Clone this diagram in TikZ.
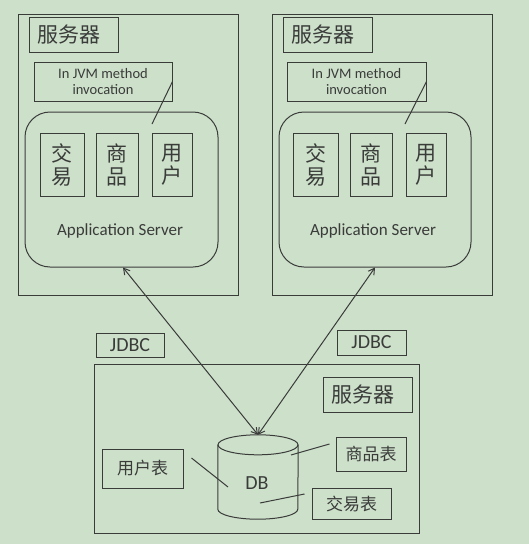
\documentclass[tikz,border=0pt]{standalone}
\usepackage{fontspec}
\setmainfont{Carlito}
\newfontfamily\cjk{Noto Sans CJK SC}
\usepackage{xcolor}
\usetikzlibrary{arrows.meta}
\definecolor{bggreen}{RGB}{205,224,202}
\definecolor{ink}{RGB}{58,60,58}
\tikzset{
  frame/.style={draw=ink, line width=1pt, inner sep=0pt, text=ink},
  srvbox/.style={frame, minimum width=220pt, minimum height=281pt},
  titbox/.style={frame, minimum width=89pt, minimum height=35pt,
                 font=\cjk\fontsize{21}{24}\selectfont},
  jvmbox/.style={frame, minimum height=39pt, align=center,
                 font=\fontsize{14.5}{16}\selectfont},
  appbox/.style={frame, rounded corners=25pt, minimum height=155pt},
  modbox/.style={frame, minimum height=63pt, align=center,
                 font=\cjk\fontsize{21}{23}\selectfont},
  tblbox/.style={frame, font=\cjk\fontsize{17}{20}\selectfont},
  jdbcbox/.style={frame, font=\fontsize{20}{22}\selectfont},
  applab/.style={text=ink, font=\fontsize{17}{20}\selectfont},
  dblab/.style={text=ink, font=\fontsize{20}{22}\selectfont},
  wire/.style={draw=ink, line width=1pt},
  link/.style={wire, {Straight Barb[length=6pt,width=7pt]}-{Straight Barb[length=6pt,width=7pt]}}
}
\begin{document}
\begin{tikzpicture}[x=1pt,y=-1pt]
  \fill[bggreen] (0,0) rectangle (529,544);
  \useasboundingbox (0,0) rectangle (529,544);
  % left server
  \node[srvbox] (srvL) at (128,154.5) {};
  \node[titbox] (titL) at (73.5,34.5) {\hspace*{-9pt}服务器};
  \node[jvmbox, minimum width=138pt] (jvmL) at (103,81.5) {In JVM method\\invocation};
  \node[appbox, minimum width=193pt] (appL) at (121.5,189.5) {};
  \node[modbox, minimum width=44pt] (jyL) at (62,164.5) {交\\易};
  \node[modbox, minimum width=42pt] (spL) at (117,164.5) {商\\品};
  \node[modbox, minimum width=40pt] (yhL) at (172,164.5) {用\\户};
  \node[applab] (asL) at (120,231) {Application Server};
  \coordinate (tailL) at (152,124);
  \draw[wire] (tailL) -- (jvmL.east);
  % right server
  \node[srvbox] (srvR) at (382,154.5) {};
  \node[titbox] (titR) at (327.5,34.5) {\hspace*{-9pt}服务器};
  \node[jvmbox, minimum width=139pt] (jvmR) at (356.5,81.5) {In JVM method\\invocation};
  \node[appbox, minimum width=192pt] (appR) at (375,189.5) {};
  \node[modbox, minimum width=45pt] (jyR) at (315.5,164.5) {交\\易};
  \node[modbox, minimum width=42pt] (spR) at (371,164.5) {商\\品};
  \node[modbox, minimum width=40pt] (yhR) at (426,164.5) {用\\户};
  \node[applab] (asR) at (373,231) {Application Server};
  \coordinate (tailR) at (405,124);
  \draw[wire] (tailR) -- (jvmR.east);
  % db server
  \node[jdbcbox, minimum width=68pt, minimum height=24pt] (jdbcL) at (130,345) {JDBC};
  \node[jdbcbox, minimum width=69pt, minimum height=25pt] (jdbcR) at (371.5,342.5) {JDBC};
  \node[frame, minimum width=325pt, minimum height=169pt] (srvD) at (256.5,448.5) {};
  \node[titbox] (titD) at (367.5,394.5) {\hspace*{-9pt}服务器};
  \node[inner sep=0pt, minimum width=80pt, minimum height=84pt] (db) at (258,477) {};
  \draw[wire] ([yshift=-10pt]db.north west) -- ([yshift=10pt]db.south west)
    arc[start angle=180, end angle=0, x radius=40, y radius=10]
    -- ([yshift=-10pt]db.north east);
  \draw[wire] ([yshift=-10pt]db.north) ellipse[x radius=40, y radius=10];
  \node[dblab] (dbt) at (257,483) {DB};
  \node[tblbox, minimum width=81pt, minimum height=39pt] (yhT) at (142.5,468.5) {用户表};
  \node[tblbox, minimum width=70pt, minimum height=34pt] (spT) at (371,454) {商品表};
  \node[tblbox, minimum width=79pt, minimum height=31pt] (jyT) at (351.5,503.5) {交易表};
  \coordinate (yhE) at (228,487);
  \coordinate (spE) at (291,455);
  \coordinate (jyE) at (260,503);
  \draw[wire] ([shift={(8,-10.5)}]yhT.east) -- (yhE);
  \draw[wire] ([shift={(-6,-10)}]spT.west) -- (spE);
  \draw[wire] ([shift={(-7,-9.5)}]jyT.west) -- (jyE);
  % jdbc links
  \draw[link] ([xshift=1.5pt]appL.south) -- (db.north);
  \draw[link] (appR.south) -- (db.north);
\end{tikzpicture}
\end{document}
